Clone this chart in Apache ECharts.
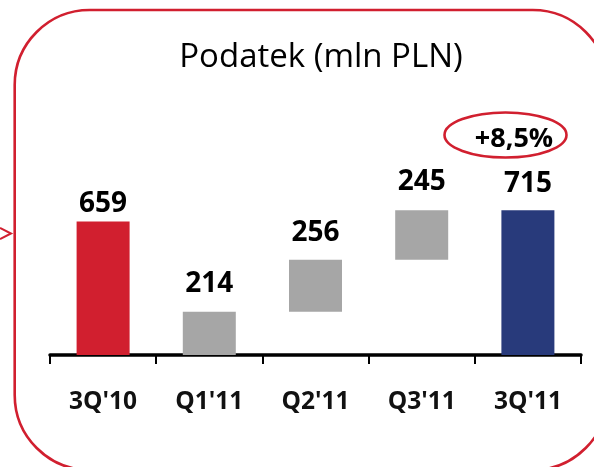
<!DOCTYPE html>
<html>
<head>
<meta charset="utf-8">
<script src="https://cdn.jsdelivr.net/npm/echarts@6/dist/echarts.min.js"></script>
<style>
html,body{margin:0;padding:0;background:#fff;}
#chart{width:594px;height:467px;}
</style>
</head>
<body>
<div id="chart"></div>
<script>
// ---- data ----
var categories = ["3Q'10", "Q1'11", "Q2'11", "Q3'11", "3Q'11"];
var values = [659, 214, 256, 245, 715];
var kinds = ['total', 'step', 'step', 'step', 'total'];
var titleText = 'Podatek (mln PLN)';
var changeText = '+8,5%';

// ---- styles ----
var RED = '#D11F2F', BLUE = '#283A7B', GRAY = '#A6A6A6';
var barColors = [RED, GRAY, GRAY, GRAY, BLUE];
var labelGaps = [4, 14, 13, 14, 12];
var FONT = '"Open Sans", "Liberation Sans", sans-serif';

// waterfall base: steps start where the previous step ended
var base = [], running = 0;
for (var i = 0; i < values.length; i++) {
  if (kinds[i] === 'total') { base.push(0); running = 0; }
  else { base.push(running); running += values[i]; }
}

var visible = values.map(function (v, i) {
  return {
    value: v,
    itemStyle: { color: barColors[i] },
    label: { distance: labelGaps[i] }
  };
});

var chart = echarts.init(document.getElementById('chart'), null, { renderer: 'canvas' });
chart.setOption({
  animation: false,
  backgroundColor: '#fff',
  grid: { left: 50, right: 13, top: 193, bottom: 112, containLabel: false },
  xAxis: {
    type: 'category',
    data: categories,
    axisLine: { lineStyle: { color: '#000', width: 3.5 } },
    axisTick: { show: true, alignWithLabel: false, length: 9, lineStyle: { color: '#000', width: 2 } },
    axisLabel: { color: '#111', fontFamily: FONT, fontWeight: 'bold', fontSize: 24.5, margin: 35 }
  },
  yAxis: {
    type: 'value', min: 0, max: 800,
    show: false,
    splitLine: { show: false }
  },
  series: [
    {
      type: 'bar', stack: 'w', data: base, barWidth: 53,
      itemStyle: { color: 'rgba(0,0,0,0)' }, silent: true
    },
    {
      type: 'bar', stack: 'w', data: visible, barWidth: 53,
      label: {
        show: true, position: 'top', color: '#000',
        fontFamily: FONT, fontWeight: 'bold', fontSize: 28
      }
    }
  ],
  graphic: [
    {
      type: 'rect', silent: true,
      shape: { x: 14.7, y: 10, width: 593, height: 460, r: 75 },
      style: { fill: 'none', stroke: RED, lineWidth: 2.6 }
    },
    {
      type: 'polyline', silent: true,
      shape: { points: [[0, 228], [11, 233.5], [0, 239]] },
      style: { fill: 'none', stroke: RED, lineWidth: 2 }
    },
    {
      type: 'text', silent: true,
      style: {
        text: titleText, x: 321, y: 58, align: 'center', verticalAlign: 'middle',
        font: 'normal 33px ' + FONT, fill: '#000'
      }
    },
    {
      type: 'ellipse', silent: true,
      shape: { cx: 505.5, cy: 135, rx: 61, ry: 22.5 },
      style: { fill: 'none', stroke: RED, lineWidth: 2.6 }
    },
    {
      type: 'text', silent: true,
      style: {
        text: changeText, x: 514, y: 139, align: 'center', verticalAlign: 'middle',
        font: 'bold 27px ' + FONT, fill: '#000'
      }
    }
  ]
});
</script>
</body>
</html>
